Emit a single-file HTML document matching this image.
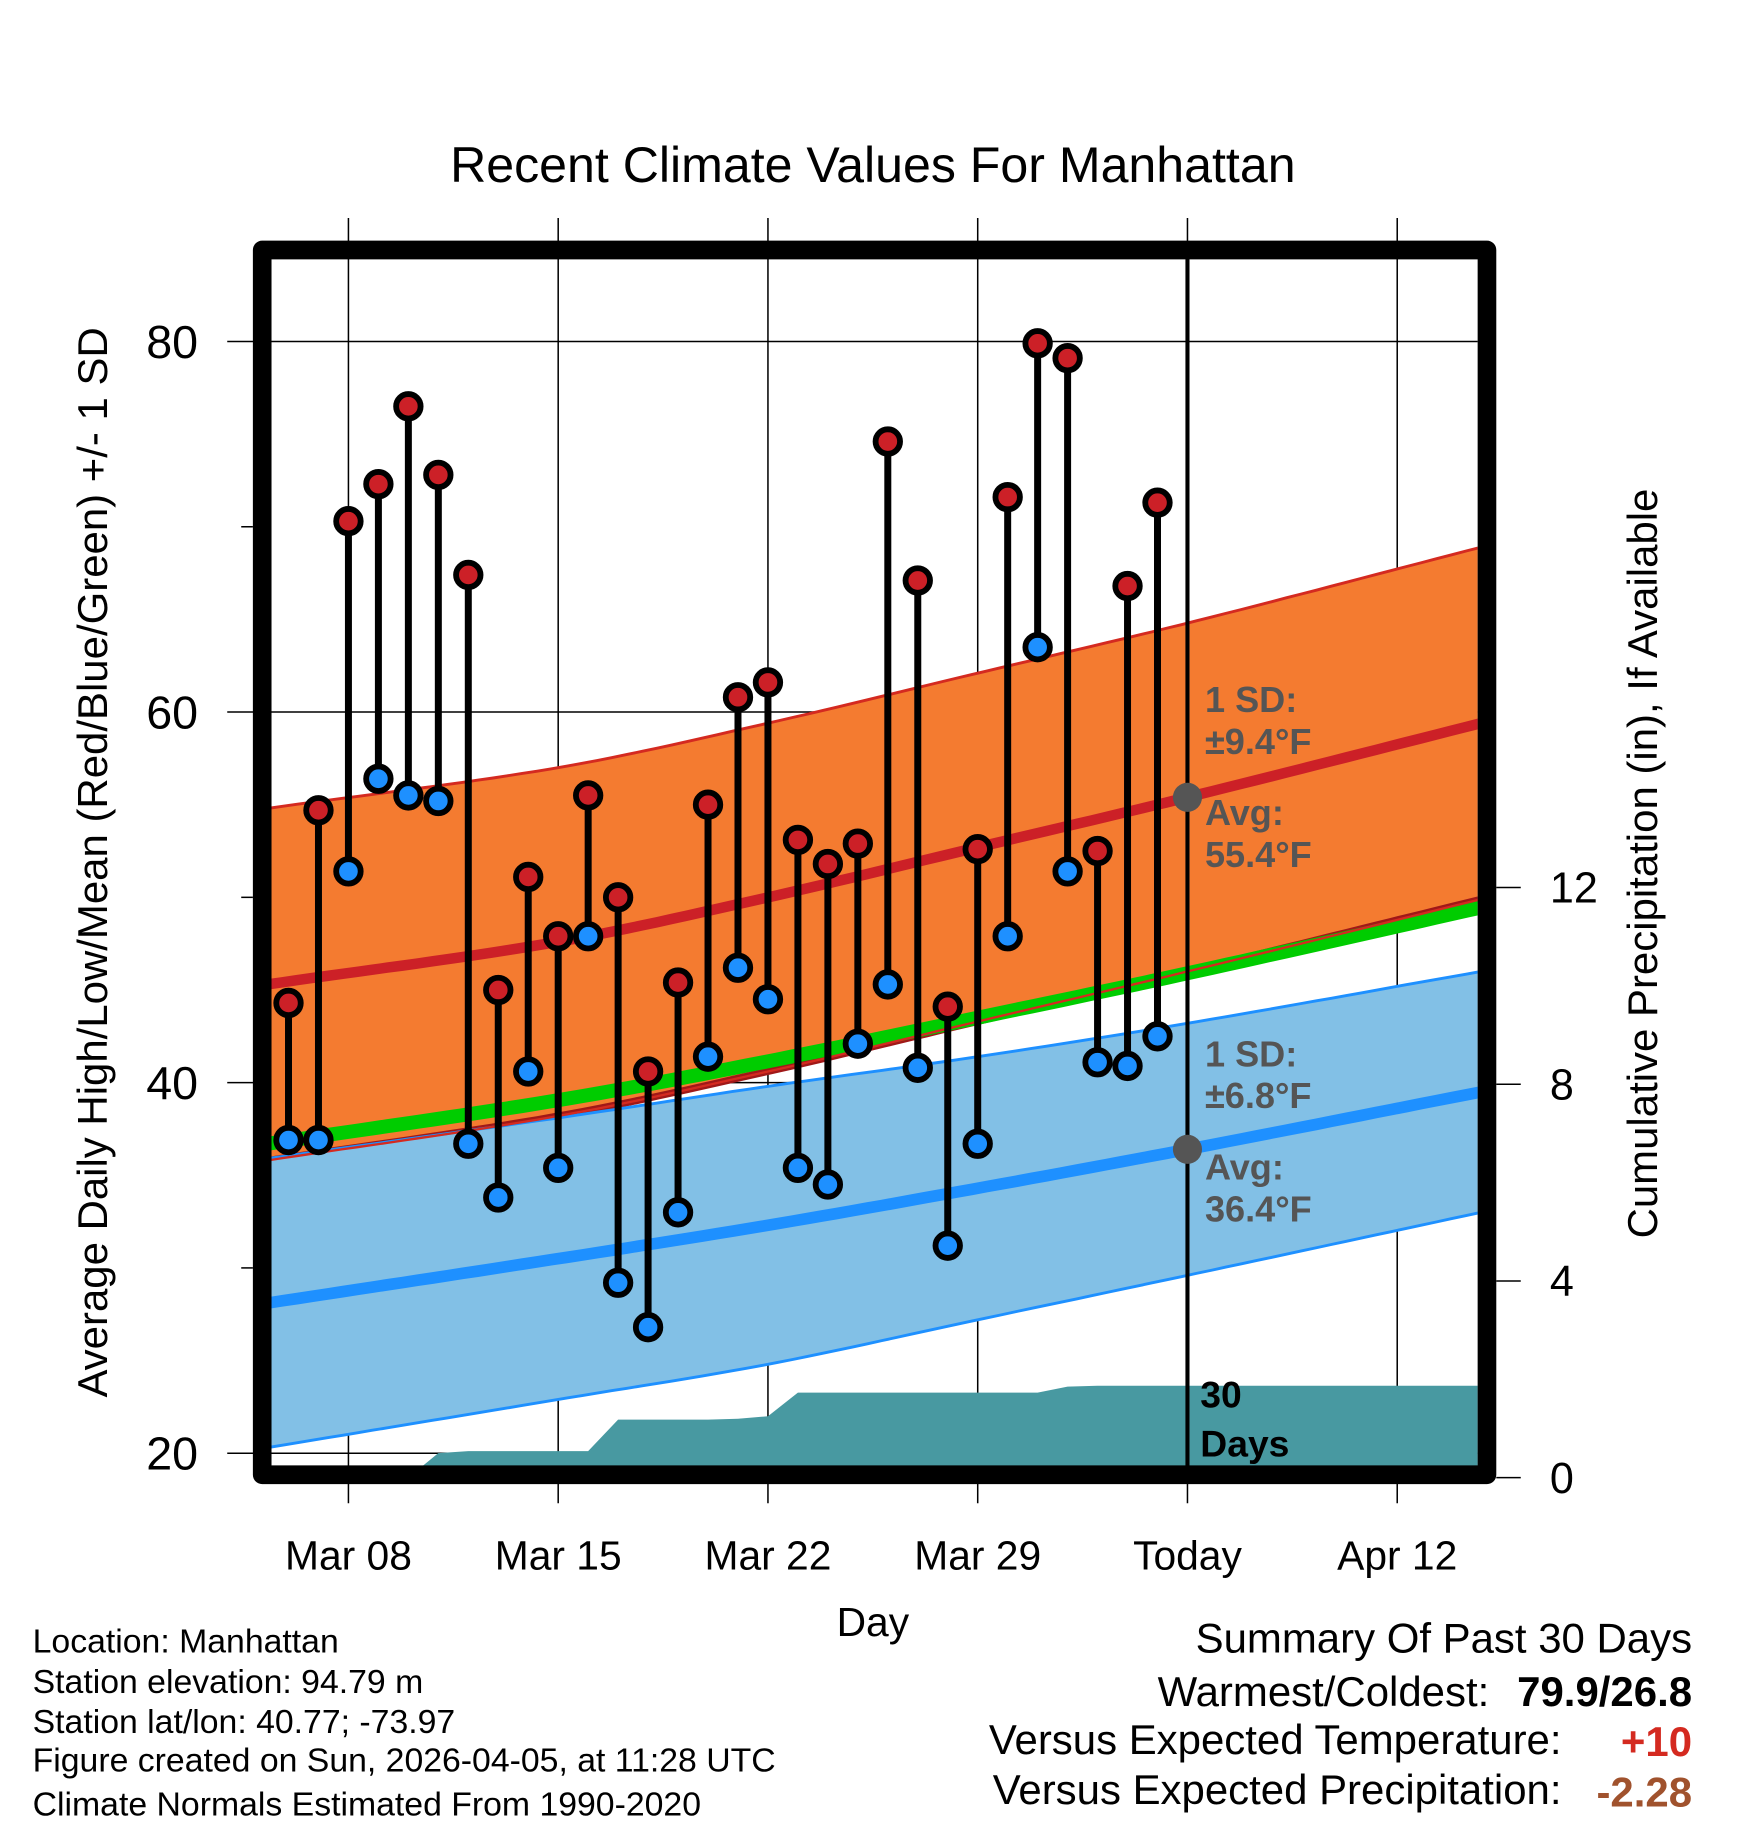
<!DOCTYPE html>
<html><head><meta charset="utf-8"><style>
html,body{margin:0;padding:0;background:#fff;}
svg{display:block;font-family:"Liberation Sans",Arial,sans-serif;}
</style></head><body>
<svg id="chart" width="1748" height="1828" viewBox="0 0 1500 1568.6" xmlns="http://www.w3.org/2000/svg">
<defs><clipPath id="pc"><rect x="231" y="222" width="1037" height="1036"/></clipPath></defs>
<text x="749" y="156" font-size="43" text-anchor="middle">Recent Climate Values For Manhattan</text>
<g id="grid"></g>
<g id="plot" clip-path="url(#pc)"></g>
<g id="marks"></g>
<rect x="225" y="214.5" width="1051" height="1051" fill="none" stroke="#000" stroke-width="16" stroke-linejoin="round"/>
<g id="axes"></g>
<text transform="translate(92,740) rotate(-90)" font-size="36" text-anchor="middle">Average Daily High/Low/Mean (Red/Blue/Green) +/- 1 SD</text>
<text transform="translate(1422,741) rotate(-90)" font-size="36" text-anchor="middle">Cumulative Precipitation (in), If Available</text>
<text x="749" y="1404" font-size="35" text-anchor="middle">Day</text>
<g font-size="29">
<text x="28" y="1418">Location: Manhattan</text>
<text x="28" y="1453">Station elevation: 94.79 m</text>
<text x="28" y="1487">Station lat/lon: 40.77; -73.97</text>
<text x="28" y="1520">Figure created on Sun, 2026-04-05, at 11:28 UTC</text>
<text x="28" y="1558">Climate Normals Estimated From 1990-2020</text>
</g>
<g font-size="36" text-anchor="end">
<text x="1452" y="1418">Summary Of Past 30 Days</text>
<text x="1278" y="1464">Warmest/Coldest:</text>
<text x="1452" y="1464" font-weight="bold">79.9/26.8</text>
<text x="1340" y="1505">Versus Expected Temperature:</text>
<text x="1452" y="1507" font-weight="bold" fill="#d42a20">+10</text>
<text x="1340" y="1548">Versus Expected Precipitation:</text>
<text x="1452" y="1550" font-weight="bold" fill="#a0522d">-2.28</text>
</g>
</svg>
<script>
const hiTemps=[44.3,54.7,70.3,72.3,76.5,72.8,67.4,45.0,51.1,47.9,55.5,50.0,40.6,45.4,55.0,60.8,61.6,53.1,51.8,52.9,74.6,67.1,44.1,52.6,71.6,79.9,79.1,52.5,66.8,71.3];
const loTemps=[36.9,36.9,51.4,56.4,55.5,55.2,36.7,33.8,40.6,35.4,47.9,29.2,26.8,33.0,41.4,46.2,44.5,35.4,34.5,42.1,45.3,40.8,31.2,36.7,47.9,63.5,51.4,41.1,40.9,42.5];
const precipCum=[0,0,0,0,0,0.5,0.54,0.54,0.54,0.54,0.54,1.18,1.18,1.18,1.18,1.2,1.25,1.73,1.73,1.73,1.73,1.73,1.73,1.73,1.73,1.73,1.85,1.87,1.87,1.87,1.87];
const normDays=[-2.7,7,14,21,28,37.8];
const normHi=[45.3,47.6,50.0,52.7,55.4,59.4];
const normLo=[28.1,30.5,32.3,34.3,36.4,39.5];
const sdHiArr=[9.5,9.4,9.4,9.4,9.4,9.5];
const sdLoArr=[7.8,7.6,7.5,7.1,6.8,6.5];
const xTickLabels=["Mar 08","Mar 15","Mar 22","Mar 29","Today","Apr 12"];
const yTicks=[20,40,60,80];
const y2Ticks=[0,4,8,12];
const firstDay=-2;

const NS="http://www.w3.org/2000/svg";
const X=d=>299+d*25.714;
const Y=t=>293+(80-t)*15.9;
const YP=v=>1268-v*42.2;
function mk(tag,attrs,parent){const e=document.createElementNS(NS,tag);for(const k in attrs)e.setAttribute(k,attrs[k]);parent.appendChild(e);return e;}
const grid=document.getElementById('grid'),plot=document.getElementById('plot'),marks=document.getElementById('marks'),axes=document.getElementById('axes');

xTickLabels.forEach((l,i)=>{const x=X(i*7);
 const g=mk('line',{x1:x,x2:x,y1:187,y2:1290,stroke:'#000','stroke-width':1.3},grid);
 
 
 const t=mk('text',{x:x,y:1347,'font-size':35,'text-anchor':'middle'},axes);t.textContent=l;
 
 
});
yTicks.forEach(v=>{const y=Y(v);
 const g=mk('line',{x1:195,x2:1268,y1:y,y2:y,stroke:'#000','stroke-width':1.3},grid);
 
 
 const t=mk('text',{x:170,y:y+14,'font-size':40,'text-anchor':'end'},axes);t.textContent=v;
 
 
});
[30,50,70].forEach(v=>{const y=Y(v);const m=mk('line',{x1:207,x2:217,y1:y,y2:y,stroke:'#000','stroke-width':1.3},axes);
 
 });
y2Ticks.forEach(v=>{const y=YP(v);
 const m=mk('line',{x1:1284,x2:1305,y1:y,y2:y,stroke:'#000','stroke-width':1.3},axes);
 
 
 const t=mk('text',{x:1330,y:y+13,'font-size':37},axes);t.textContent=v;
 
 
});

// Catmull-Rom interpolation over knots
function interp(arr,d){const n=normDays.length;let i=0;while(i<n-2&&d>normDays[i+1])i++;
 const t=Math.max(0,Math.min(1,(d-normDays[i])/(normDays[i+1]-normDays[i])));
 const p0=arr[Math.max(0,i-1)],p1=arr[i],p2=arr[i+1],p3=arr[Math.min(n-1,i+2)];
 const h=normDays[i+1]-normDays[i];
 const m1=(i>0?(p2-p0)/(normDays[i+1]-normDays[i-1]):(p2-p1)/h)*h;
 const m2=(i+2<n?(p3-p1)/(normDays[i+2]-normDays[i]):(p2-p1)/h)*h;
 const t2=t*t,t3=t2*t;
 return (2*t3-3*t2+1)*p1+(t3-2*t2+t)*m1+(-2*t3+3*t2)*p2+(t3-t2)*m2;}
const ds=[];for(let d=-2.7;d<=37.9;d+=0.5)ds.push(d);
const line=(fn)=>ds.map(d=>X(d).toFixed(1)+','+Y(fn(d)).toFixed(1)).join(' ');
const band=(fa,fb)=>ds.map(d=>X(d).toFixed(1)+','+Y(fa(d)).toFixed(1)).concat(ds.slice().reverse().map(d=>X(d).toFixed(1)+','+Y(fb(d)).toFixed(1))).join(' ');
const H=d=>interp(normHi,d),L=d=>interp(normLo,d),SH=d=>interp(sdHiArr,d),SL=d=>interp(sdLoArr,d);

const ob=mk('polygon',{points:band(d=>H(d)+SH(d),d=>H(d)-SH(d)),fill:'#f47b30'},plot);


const hu=mk('polyline',{points:line(d=>H(d)+SH(d)),fill:'none',stroke:'#d42a20','stroke-width':2.5},plot);


const hl=mk('polyline',{points:line(d=>H(d)-SH(d)),fill:'none',stroke:'#a01818','stroke-width':6},plot);


const bb=mk('polygon',{points:band(d=>L(d)+SL(d),d=>L(d)-SL(d)),fill:'#82c0e6'},plot);


[1,-1].forEach(s=>{const e=mk('polyline',{points:line(d=>L(d)+s*SL(d)),fill:'none',stroke:'#1e90ff','stroke-width':2.5},plot);
 
 });
const gl=mk('polyline',{points:line(d=>(H(d)+L(d))/2),fill:'none',stroke:'#00cc00','stroke-width':12},plot);


const hl2=mk('polyline',{points:line(d=>H(d)-SH(d)),fill:'none',stroke:'#d42a20','stroke-width':2},plot);


const ra=mk('polyline',{points:line(H),fill:'none',stroke:'#cc2027','stroke-width':9},plot);


const ba=mk('polyline',{points:line(L),fill:'none',stroke:'#1e90ff','stroke-width':10},plot);



let pts=[X(-2.7)+','+YP(0)];
precipCum.forEach((v,i)=>pts.push(X(firstDay+i).toFixed(1)+','+YP(v).toFixed(1)));
pts.push(X(37.9)+','+YP(precipCum[precipCum.length-1]));pts.push(X(37.9)+','+1262);pts.push(X(-2.7)+','+1262);
const pa=mk('polygon',{points:pts.join(' '),fill:'#4899a1'},plot);



const tl=mk('line',{x1:X(28),x2:X(28),y1:222,y2:1260,stroke:'#000','stroke-width':3.5},plot);



hiTemps.forEach((h,i)=>{const x=X(firstDay+i),l=loTemps[i];
 const s=mk('line',{x1:x,x2:x,y1:Y(h),y2:Y(l),stroke:'#000','stroke-width':6},marks);
 
 
});
hiTemps.forEach((h,i)=>{const x=X(firstDay+i),l=loTemps[i];
 const c1=mk('circle',{cx:x,cy:Y(h),r:10.5,fill:'#cc2027',stroke:'#000','stroke-width':5},marks);
 
 
 const c2=mk('circle',{cx:x,cy:Y(l),r:10.5,fill:'#1e90ff',stroke:'#000','stroke-width':5},marks);
 
 
});
[H(28),L(28)].forEach(v=>{const c=mk('circle',{cx:X(28),cy:Y(v),r:12.5,fill:'#555'},marks);
 
 });
const labs=[["1 SD:",611],["±9.4°F",647],["Avg:",708],[(Math.round(H(28)*10)/10).toFixed(1)+"°F",744],["1 SD:",915],["±6.8°F",951],["Avg:",1012],[(Math.round(L(28)*10)/10).toFixed(1)+"°F",1048]];
labs.forEach(a=>{const t=mk('text',{x:1034,y:a[1],'font-size':31,'font-weight':'bold',fill:'#555'},marks);t.textContent=a[0];
 
 });
[["30",1208],["Days",1250]].forEach(a=>{const t=mk('text',{x:1030,y:a[1],'font-size':32,'font-weight':'bold',fill:'#000'},marks);t.textContent=a[0];
 
 });
</script>
</body></html>
